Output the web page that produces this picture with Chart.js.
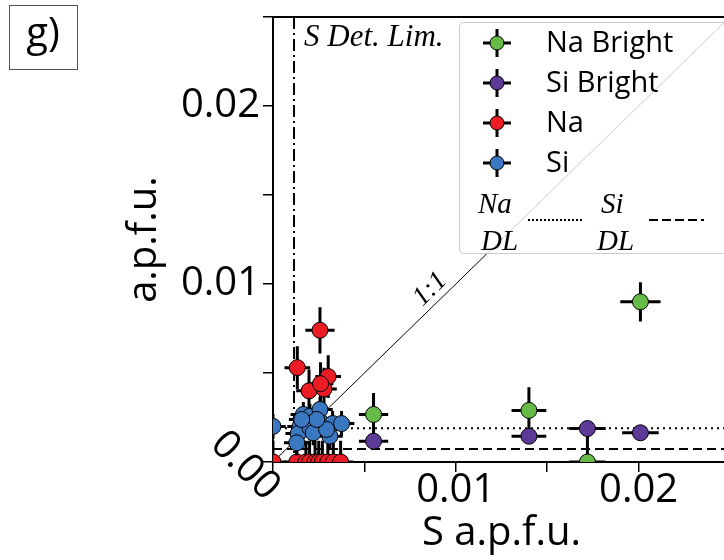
<!DOCTYPE html>
<html>
<head>
<meta charset="utf-8">
<script src="https://cdn.jsdelivr.net/npm/chart.js@4.4.1/dist/chart.umd.min.js"></script>
<style>
  html, body { margin: 0; padding: 0; background: #fff; overflow: hidden; }
  #wrap { width: 724px; height: 560px; overflow: hidden; }
  canvas { display: block; }
</style>
</head>
<body>
<div id="wrap"><canvas id="chart" width="760" height="560"></canvas></div>
<script>
// S vs. Na / Si (a.p.f.u.), with 1-sigma errors
const naBrightS    = [0.0055, 0.0140, 0.0172, 0.0201];
const naBrightY    = [0.00267, 0.0029, 0.0, 0.0090];
const naBrightSErr = [0.0008, 0.00095, 0.001, 0.0011];
const naBrightYErr = [0.0012, 0.0013, 0.0017, 0.0011];

const siBrightS    = [0.0055, 0.0140, 0.0172, 0.0201];
const siBrightY    = [0.00117, 0.00145, 0.00188, 0.00164];
const siBrightSErr = [0.0008, 0.00095, 0.001, 0.001];
const siBrightYErr = [0.0003, 0.0003, 0.0003, 0.0003];

const naS    = [0.00257, 0.00133, 0.00302, 0.00197, 0.00279, 0.0026, 0.0, 0.0013, 0.0018, 0.0020, 0.0023, 0.0025, 0.0027, 0.0030, 0.0033, 0.0037];
const naY    = [0.0074, 0.0053, 0.0048, 0.0040, 0.0041, 0.0044, 0, 0, 0, 0, 0, 0, 0, 0, 0, 0];
const naSErr = [0.0008, 0.0007, 0.0007, 0.0007, 0.0007, 0.0007, 0.0007, 0.0007, 0.0007, 0.0007, 0.0007, 0.0007, 0.0007, 0.0007, 0.0007, 0.0007];
const naYErr = [0.0013, 0.0012, 0.0012, 0.0012, 0.0012, 0.0012, 0.0012, 0.0012, 0.0012, 0.0012, 0.0012, 0.0012, 0.0012, 0.0012, 0.0012, 0.0012];

const siS    = [0.0, 0.00148, 0.00138, 0.0013, 0.00166, 0.00202, 0.00257, 0.00202, 0.00266, 0.00326, 0.00375, 0.00311, 0.0022, 0.00293, 0.00239, 0.00157];
const siY    = [0.0020, 0.0020, 0.0016, 0.00108, 0.00267, 0.00257, 0.00295, 0.00192, 0.0022, 0.00216, 0.00216, 0.00145, 0.00164, 0.00183, 0.00239, 0.00239];
const siSErr = [0.0007, 0.0007, 0.0007, 0.0007, 0.0007, 0.0007, 0.0007, 0.0007, 0.0007, 0.0007, 0.0007, 0.0007, 0.0007, 0.0007, 0.0007, 0.0007];
const siYErr = [0.0007, 0.0007, 0.0007, 0.0007, 0.0007, 0.0007, 0.0007, 0.0007, 0.0007, 0.0007, 0.0007, 0.0007, 0.0007, 0.0007, 0.0007, 0.0007];

// detection limits
const naDetLim = 0.0019;
const siDetLim = 0.00073;
const sDetLim = 0.00115;

// axes
const tickPositions = [0, 0.005, 0.01, 0.015, 0.02, 0.025];
const labelledTicks = [0.01, 0.02];
const tickLabels = ['0.01', '0.02'];

const SANS = "'Open Sans', 'Noto Sans', sans-serif";
const SERIF = "'Liberation Serif', 'DejaVu Serif', serif";

const colors = {
    naBright: '#66bb46',
    siBright: '#5e3a98',
    na: '#ec1c24',
    si: '#3b78c2'
};

function points(xs, ys) {
    return xs.map((v, i) => ({ x: v, y: ys[i] }));
}

function tickLabel(v) {
    const i = labelledTicks.findIndex(t => Math.abs(t - v) < 1e-9);
    return i >= 0 ? tickLabels[i] : '';
}

// draw the error crosses of each series just before its markers
const errorBars = {
    id: 'errorBars',
    beforeDatasetDraw(chart, args) {
        const ds = chart.data.datasets[args.index];
        const { ctx, chartArea: a, scales: { x, y } } = chart;
        ctx.save();
        ctx.beginPath();
        ctx.rect(a.left, a.top, a.right - a.left, a.bottom - a.top);
        ctx.clip();
        ctx.strokeStyle = '#000';
        ctx.lineWidth = 3;
        ds.data.forEach((p, i) => {
            const px = x.getPixelForValue(p.x);
            const py = y.getPixelForValue(p.y);
            ctx.beginPath();
            ctx.moveTo(x.getPixelForValue(p.x - ds.xErr[i]), py);
            ctx.lineTo(x.getPixelForValue(p.x + ds.xErr[i]), py);
            ctx.moveTo(px, y.getPixelForValue(p.y - ds.yErr[i]));
            ctx.lineTo(px, y.getPixelForValue(p.y + ds.yErr[i]));
            ctx.stroke();
        });
        ctx.restore();
    }
};

// 1:1 line, detection limits and top spine
const guides = {
    id: 'guides',
    beforeDatasetsDraw(chart) {
        const { ctx, chartArea: a, scales: { x, y } } = chart;
        ctx.save();
        ctx.beginPath();
        ctx.rect(a.left, a.top, a.right - a.left, a.bottom - a.top);
        ctx.clip();
        ctx.strokeStyle = '#000';

        ctx.lineWidth = 1;
        ctx.beginPath();
        ctx.moveTo(x.getPixelForValue(0), y.getPixelForValue(0));
        ctx.lineTo(x.getPixelForValue(0.03), y.getPixelForValue(0.03));
        ctx.stroke();

        ctx.lineWidth = 2;
        ctx.setLineDash([2, 4]);
        ctx.beginPath();
        ctx.moveTo(a.left, y.getPixelForValue(naDetLim));
        ctx.lineTo(a.right, y.getPixelForValue(naDetLim));
        ctx.stroke();

        ctx.setLineDash([9, 5]);
        ctx.beginPath();
        ctx.moveTo(a.left, y.getPixelForValue(siDetLim));
        ctx.lineTo(a.right, y.getPixelForValue(siDetLim));
        ctx.stroke();

        ctx.setLineDash([12, 4, 2, 4]);
        ctx.beginPath();
        ctx.moveTo(x.getPixelForValue(sDetLim), a.top);
        ctx.lineTo(x.getPixelForValue(sDetLim), a.bottom);
        ctx.stroke();
        ctx.restore();

        ctx.save();
        ctx.strokeStyle = '#000';
        ctx.lineWidth = 2;
        ctx.beginPath();
        ctx.moveTo(a.left, a.top);
        ctx.lineTo(a.right, a.top);
        ctx.stroke();
        ctx.restore();
    }
};

// legend, panel tag and in-plot labels
const decorations = {
    id: 'decorations',
    afterDatasetsDraw(chart) {
        const { ctx, chartArea: a, scales: { x, y } } = chart;
        ctx.save();
        ctx.fillStyle = '#000';

        // detection limit label
        ctx.font = 'italic 31px ' + SERIF;
        ctx.textAlign = 'left';
        ctx.textBaseline = 'alphabetic';
        ctx.fillText('S Det. Lim.', x.getPixelForValue(sDetLim) + 10, a.top + 29);

        // 1:1 label
        ctx.save();
        ctx.translate(x.getPixelForValue(0.0086), y.getPixelForValue(0.0097));
        ctx.rotate(-Math.PI / 4);
        ctx.font = 'italic 27px ' + SERIF;
        ctx.textAlign = 'center';
        ctx.textBaseline = 'middle';
        ctx.fillText('1:1', 0, 0);
        ctx.restore();

        // shared origin label
        ctx.save();
        ctx.translate(a.left - 28, a.bottom + 4);
        ctx.rotate(Math.PI / 4);
        ctx.font = '40px ' + SANS;
        ctx.textAlign = 'center';
        ctx.textBaseline = 'middle';
        ctx.fillText('0.00', 0, 0);
        ctx.restore();

        // legend box
        ctx.fillStyle = 'rgba(255,255,255,0.8)';
        ctx.strokeStyle = '#cccccc';
        ctx.lineWidth = 1;
        ctx.beginPath();
        ctx.roundRect(459.5, 22.5, 320, 231, 4);
        ctx.fill();
        ctx.stroke();

        const entries = [
            ['Na Bright', colors.naBright],
            ['Si Bright', colors.siBright],
            ['Na', colors.na],
            ['Si', colors.si]
        ];
        entries.forEach(([label, c], i) => {
            const cy = 43 + i * 40;
            const cx = 497;
            ctx.strokeStyle = '#000';
            ctx.lineWidth = 3;
            ctx.beginPath();
            ctx.moveTo(cx - 14, cy); ctx.lineTo(cx + 14, cy);
            ctx.moveTo(cx, cy - 14); ctx.lineTo(cx, cy + 14);
            ctx.stroke();
            ctx.beginPath();
            ctx.arc(cx, cy, 7, 0, Math.PI * 2);
            ctx.fillStyle = c;
            ctx.fill();
            ctx.lineWidth = 1;
            ctx.stroke();
            ctx.fillStyle = '#000';
            ctx.font = '29px ' + SANS;
            ctx.textAlign = 'left';
            ctx.textBaseline = 'middle';
            ctx.fillText(label, 546, cy + 1);
        });

        ctx.font = 'italic 29px ' + SERIF;
        ctx.textBaseline = 'alphabetic';
        ctx.fillStyle = '#000';
        ctx.fillText('Na', 478, 213);
        ctx.fillText('DL', 481, 250);
        ctx.fillText('Si', 601, 213);
        ctx.fillText('DL', 597, 250);

        ctx.strokeStyle = '#000';
        ctx.lineWidth = 2;
        ctx.setLineDash([2, 2]);
        ctx.beginPath();
        ctx.moveTo(528, 220); ctx.lineTo(583, 220);
        ctx.stroke();
        ctx.setLineDash([9, 4]);
        ctx.beginPath();
        ctx.moveTo(649, 220); ctx.lineTo(704, 220);
        ctx.stroke();
        ctx.setLineDash([]);

        // panel tag
        ctx.strokeStyle = '#555';
        ctx.lineWidth = 1;
        ctx.strokeRect(9.5, 5.5, 68, 64);
        ctx.font = '40px ' + SANS;
        ctx.textAlign = 'center';
        ctx.textBaseline = 'middle';
        ctx.fillText('g)', 43, 35);
        ctx.restore();
    }
};

function series(label, xs, ys, xErr, yErr, color, order) {
    return {
        label: label,
        data: points(xs, ys),
        xErr: xErr,
        yErr: yErr,
        order: order,
        backgroundColor: color,
        borderColor: '#000',
        borderWidth: 1,
        pointRadius: 8,
        pointHoverRadius: 8,
        showLine: false,
        clip: 0
    };
}

const ctx = document.getElementById('chart').getContext('2d');
new Chart(ctx, {
    type: 'scatter',
    data: {
        datasets: [
            series('Na Bright', naBrightS, naBrightY, naBrightSErr, naBrightYErr, colors.naBright, 3),
            series('Si Bright', siBrightS, siBrightY, siBrightSErr, siBrightYErr, colors.siBright, 2),
            series('Na', naS, naY, naSErr, naYErr, colors.na, 1),
            series('Si', siS, siY, siSErr, siYErr, colors.si, 0)
        ]
    },
    options: {
        responsive: false,
        devicePixelRatio: 1,
        animation: false,
        events: [],
        layout: { padding: { left: 0, right: 30, top: 17, bottom: 0 } },
        plugins: {
            legend: { display: false },
            tooltip: { enabled: false }
        },
        scales: {
            x: {
                type: 'linear',
                min: 0,
                max: 0.025,
                afterBuildTicks: s => { s.ticks = tickPositions.map(v => ({ value: v })); },
                afterFit: s => { s.height = 98; s.paddingLeft = 0; s.paddingRight = 0; },
                ticks: {
                    autoSkip: false,
                    maxRotation: 0,
                    padding: -5,
                    color: '#000',
                    font: { family: SANS, size: 40 },
                    callback: v => tickLabel(v)
                },
                grid: { drawOnChartArea: false, drawTicks: true, tickLength: 10, color: '#000', lineWidth: 1.5 },
                border: { display: true, color: '#000', width: 2 },
                title: {
                    display: true,
                    text: 'S a.p.f.u.',
                    color: '#000',
                    font: { family: SANS, size: 40 },
                    padding: { top: 0, bottom: 2 }
                }
            },
            y: {
                type: 'linear',
                min: 0,
                max: 0.025,
                afterBuildTicks: s => { s.ticks = tickPositions.map(v => ({ value: v })); },
                afterFit: s => { s.width = 273; s.paddingTop = 0; s.paddingBottom = 0; },
                ticks: {
                    autoSkip: false,
                    padding: 3,
                    color: '#000',
                    font: { family: SANS, size: 40 },
                    callback: v => tickLabel(v)
                },
                grid: { drawOnChartArea: false, drawTicks: true, tickLength: 10, color: '#000', lineWidth: 1.5 },
                border: { display: true, color: '#000', width: 2 },
                title: {
                    display: true,
                    text: 'a.p.f.u.',
                    color: '#000',
                    font: { family: SANS, size: 40 },
                    padding: { top: 121, bottom: 0 }
                }
            }
        }
    },
    plugins: [guides, errorBars, decorations]
});
</script>
</body>
</html>
